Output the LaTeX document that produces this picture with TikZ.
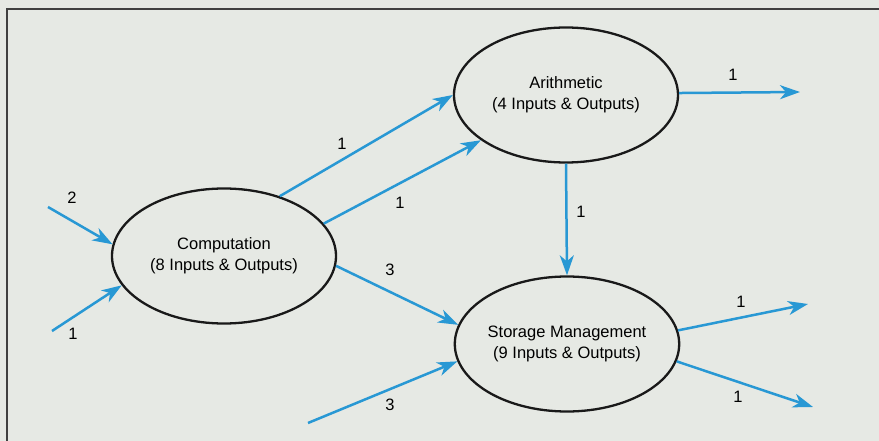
\documentclass[tikz,border=0pt]{standalone}
\usepackage{fontspec}
\setmainfont{Liberation Sans}
\usepackage{tikz}
\usetikzlibrary{arrows.meta,shapes.geometric,positioning}
\definecolor{paperbg}{HTML}{E6E9E4}
\definecolor{flowblue}{HTML}{2898D4}

\begin{document}
\begin{tikzpicture}[x=1pt,y=-1pt,
    module/.style={draw=black!90,line width=2.3pt,ellipse,minimum width=224pt,minimum height=135pt,inner sep=0pt,align=center,font=\fontsize{16.5}{21}\selectfont},
    flow/.style={draw=flowblue,line width=2.5pt,-{Stealth[length=20pt,width=14pt,inset=6pt]}},
    count/.style={font=\fontsize{16.5}{19}\selectfont}]
    \useasboundingbox (0,0) rectangle (879,441);
    \fill[paperbg] (0,0) rectangle (879,441);
    \draw[line width=2pt,black!75] (7,441) -- (7,9) -- (879,9);

    % the three modules
    \node[module] (comp) at (224,256) {Computation\\(8 Inputs \& Outputs)};
    \node[module] (arith) at (566,95) {Arithmetic\\(4 Inputs \& Outputs)};
    \node[module] (store) at (567,344) {Storage Management\\(9 Inputs \& Outputs)};

    % loose ends of the outside connections
    \coordinate (inA) at (48,207);
    \coordinate (inB) at (52,331);
    \coordinate (inC) at (308,423);
    \coordinate (outA) at (800,92);
    \coordinate (outB) at (808,304);
    \coordinate (outC) at (813,407);

    \draw[flow] (inA) -- (comp.174);
    \draw[flow] (inB) -- (comp.196);
    \draw[flow] (comp.47) -- (arith.180);
    \draw[flow] (comp.18) -- (arith.208);
    \draw[flow] (comp.-5) -- (store.170);
    \draw[flow] (inC) -- (store.189);
    \draw[flow] (arith.south) -- (store.north);
    \draw[flow] (arith.1) -- (outA);
    \draw[flow] (store.7) -- (outB);
    \draw[flow] (store.-9) -- (outC);

    % connection counts
    \foreach \nm/\x/\y/\num in {lin2/72/198/2,lin1/73/334/1,lcaup/342/144/1,lcalow/400/203/1,
        lcs/390/270/3,lin3/390/405/3,las/581/212/1,lout1/733/75/1,lout2/741/302/1,lout3/738/397/1}{
        \node[count] (\nm) at (\x,\y) {\num};
    }
\end{tikzpicture}
\end{document}
